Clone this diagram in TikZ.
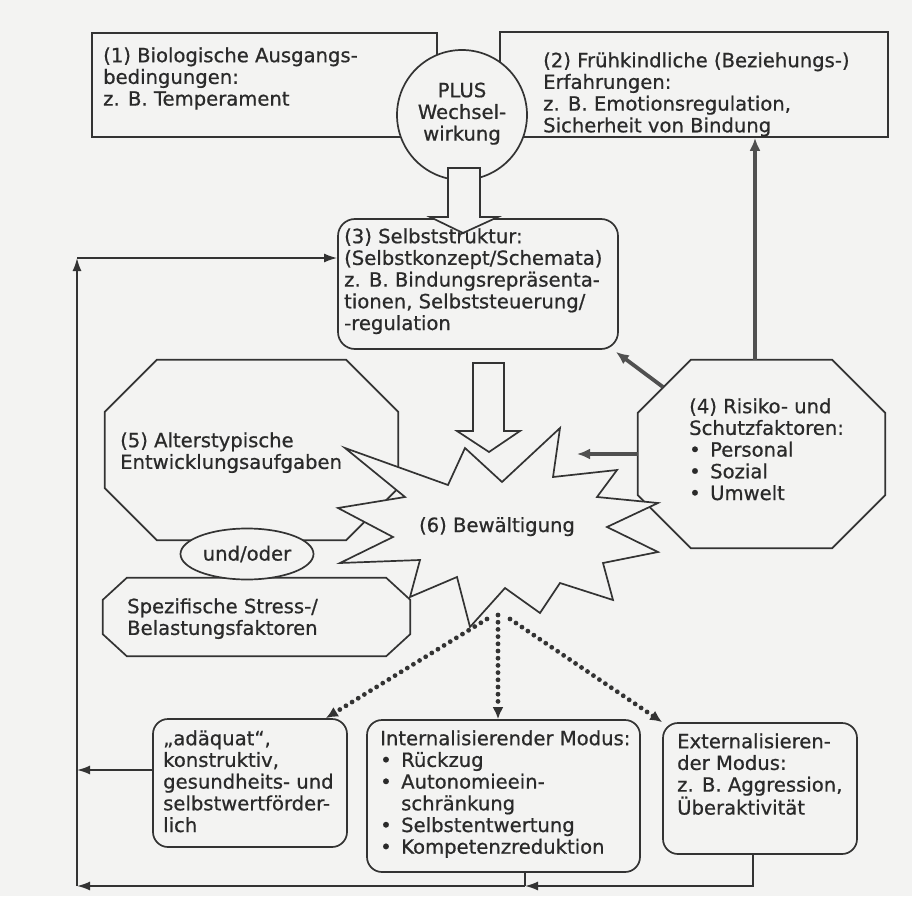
\documentclass[tikz,border=0pt]{standalone}
\usepackage{fontspec}
\setmainfont{DejaVu Sans}[FakeBold=0.7]
\usetikzlibrary{arrows.meta,calc,shapes.geometric}
\definecolor{bgc}{HTML}{F3F3F2}
\definecolor{ink}{HTML}{333333}
\definecolor{txt}{HTML}{2A2A2A}
\definecolor{thickc}{HTML}{505050}
\newcommand\fl{\rule{0pt}{17pt}}
\newcommand\bul{\makebox[21pt][l]{\textbullet}}
\newcommand\drawoct[3]{\draw[shapeline] ([xshift=#2]#1.north west) -- ([xshift=-#2]#1.north east) -- ([yshift=-#3]#1.north east) -- ([yshift=#3]#1.south east) -- ([xshift=-#2]#1.south east) -- ([xshift=#2]#1.south west) -- ([yshift=#3]#1.south west) -- ([yshift=-#3]#1.north west) -- cycle;}
\begin{document}
\begin{tikzpicture}[x=1pt,y=-1pt,
  every node/.style={font=\fontsize{19.6}{21.7}\selectfont, text=txt},
  shapeline/.style={draw=ink, line width=1.7pt, fill=bgc},
  sbox/.style={shapeline, inner sep=0pt},
  rbox/.style={sbox, rounded corners=15pt},
  plain/.style={inner sep=0pt},
  txtnode/.style={anchor=north west, inner sep=0pt, align=left},
  thinarrow/.style={draw=ink, line width=1.7pt, -{Latex[length=13pt,width=9pt]}},
  thickarrow/.style={draw=thickc, line width=3.8pt, -{Latex[length=13pt,width=11pt]}},
  dotarrow/.style={draw=ink, line width=4.8pt, dash pattern=on 0pt off 7.2pt, line cap=round, -{Latex[length=12pt,width=11pt]}},
]
\fill[bgc] (0,0) rectangle (912,896);
\useasboundingbox (0,0) rectangle (912,896);

% top boxes
\node[sbox, minimum width=345pt, minimum height=104pt] (b1) at (264.5,85) {};
\node[sbox, minimum width=388pt, minimum height=105pt] (b2) at (694,84.5) {};
\node[txtnode] (t1) at (103,45) {\fl(1) Biologische Ausgangs-\\bedingungen:\\z. B. Temperament};
\node[txtnode] (t2) at (543,50) {\fl(2) Frühkindliche (Beziehungs-)\\Erfahrungen:\\z. B. Emotionsregulation,\\Sicherheit von Bindung};

% box 3
\node[sbox, rounded corners=17pt, minimum width=280pt, minimum height=130pt] (b3) at (478,284) {};
\node[txtnode] (t3) at (344,226) {\fl(3) Selbststruktur:\\(Selbstkonzept/Schemata)\\z. B. Bindungsrepräsenta-\\tionen, Selbststeuerung/\\-regulation};

% circle
\node[circle, sbox, minimum size=130pt] (plus) at (462,115) {};
\node[anchor=north, inner sep=0pt, align=center] (plust) at (462,80) {\fl PLUS\\Wechsel-\\wirkung};
% block arrow 1
\draw[shapeline] (448,168) -- (480,168) -- (480,217) -- (498,217) -- (463,233) -- (430,217) -- (448,217) -- cycle;

% octagons
\node[plain, minimum width=293pt, minimum height=180pt] (o5) at (251.5,450) {};
\drawoct{o5}{52pt}{52pt}
\node[txtnode] (t5) at (120,430) {\fl(5) Alterstypische\\Entwicklungsaufgaben};

\node[plain, minimum width=307pt, minimum height=78pt] (oS) at (256.5,617) {};
\drawoct{oS}{24pt}{22pt}
\node[txtnode] (tS) at (127,596) {\fl Spezifische Stress-/\\Belastungsfaktoren};

\node[ellipse, sbox, minimum width=133pt, minimum height=51pt] (uo) at (247,554) {und/oder};

\node[plain, minimum width=247pt, minimum height=188pt] (o4) at (761.5,454) {};
\drawoct{o4}{53pt}{53pt}
\node[txtnode] (t4) at (689,396) {\fl(4) Risiko- und\\Schutzfaktoren:\\\bul Personal\\\bul Sozial\\\bul Umwelt};

% star (6)
\draw[shapeline] (345,448) -- (448,485) -- (465,448) -- (502,482) -- (560,428) -- (553,477)
  -- (617,470) -- (597,497) -- (658,503) -- (607,527) -- (658,552) -- (603,563)
  -- (613,600) -- (560,583) -- (540,613) -- (505,588) -- (470,627) -- (457,577)
  -- (410,597) -- (420,560) -- (340,563) -- (393,537) -- (338,508) -- (405,497) -- cycle;
\node[anchor=base, inner sep=0pt] (n6) at (497,532) {(6) Bewältigung};

% block arrow 2
\draw[shapeline] (473,363) -- (504,363) -- (504,431) -- (520,431) -- (489,452) -- (457,431) -- (473,431) -- cycle;

% thick arrows from (4)
\coordinate (c4d) at (663,387);
\coordinate (c6r) at (577,453);
\draw[thickarrow] ([xshift=-6.5pt]o4.north) -- ([xshift=-6.5pt]o4.north |- b2.south);
\draw[thickarrow] (c4d) -- ([xshift=-3pt,yshift=-2pt]b3.south east);
\draw[thickarrow] (o4.west) -- (c6r |- o4.west);

% bottom boxes
\node[rbox, minimum width=194pt, minimum height=128pt] (bA) at (250,783) {};
\node[txtnode] (tA) at (163,728) {\fl„adäquat“,\\konstruktiv,\\gesundheits- und\\selbstwertförder-\\lich};
\node[rbox, minimum width=273pt, minimum height=152pt] (bI) at (503.5,796) {};
\node[txtnode] (tI) at (380,728) {\fl Internalisierender Modus:\\\bul Rückzug\\\bul Autonomieein-\\\hspace*{21pt}schränkung\\\bul Selbstentwertung\\\bul Kompetenzreduktion};
\node[rbox, minimum width=194pt, minimum height=131pt] (bE) at (760,788.5) {};
\node[txtnode] (tE) at (677,731) {\fl Externalisieren-\\der Modus:\\z. B. Aggression,\\Überaktivität};

% dotted arrows
\coordinate (d1) at (487,619);
\coordinate (d2) at (498,615);
\coordinate (d3) at (510,619);
\draw[dotarrow] (d1) -- ([xshift=-22pt]bA.north east);
\draw[dotarrow] (d2) -- (d2 |- bI.north);
\draw[dotarrow] (d3) -- (bE.north west);

% feedback loop
\coordinate (cTL) at (77,258);
\coordinate (cBL) at (77,886);
\coordinate (cJ) at (525,886);
\coordinate (cE) at (753,886);
\draw[thinarrow] (cTL) -- (cTL -| b3.west);
\draw[thinarrow] (cBL) -- (cTL);
\draw[thinarrow] (cJ) -- (cBL);
\draw[draw=ink, line width=1.7pt] (bI.south -| cJ) -- (cJ);
\draw[thinarrow] (bE.south -| cE) -- (cE) -- (cJ);
\draw[thinarrow] ([yshift=13pt]bA.west) -- ([yshift=13pt]bA.west -| cTL);
\end{tikzpicture}
\end{document}
